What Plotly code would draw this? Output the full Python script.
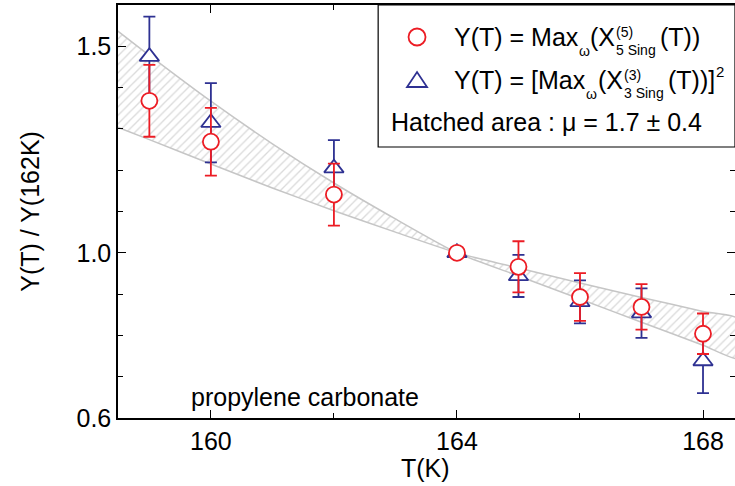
import plotly.graph_objects as go

# Données
T = [159, 160, 162, 164, 165, 166, 167, 168]
y5 = [1.368, 1.269, 1.141, 1.0, 0.966, 0.893, 0.869, 0.804]
err5 = [0.087, 0.082, 0.075, 0.005, 0.062, 0.058, 0.055, 0.049]
y3 = [1.475, 1.315, 1.205, 1.0, 0.944, 0.881, 0.854, 0.738]
err3 = [0.097, 0.096, 0.068, 0.01, 0.051, 0.052, 0.06, 0.078]

# bords de la zone hachurée (mu = 1.7 +/- 0.4)
T_band = [158.4, 159, 160, 161, 162, 163, 164, 165, 166, 167, 168, 168.6]
band_steep = [1.547, 1.478, 1.367, 1.264, 1.169, 1.082, 1.0, 0.944, 0.888, 0.832, 0.776, 0.743]
band_flat = [1.309, 1.274, 1.215, 1.157, 1.102, 1.05, 1.0, 0.963, 0.927, 0.892, 0.858, 0.839]

x_ticks = [160, 164, 168]
y_ticks = [0.6, 1.0, 1.5]
y_ticktext = ['0.6', '1.0', '1.5']

RED = '#ec1c24'
BLUE = '#2e3192'
FONT = 'Liberation Sans, Arial, Helvetica, sans-serif'

# géométrie du cadre (px) : le bord droit du cadre tombe juste hors de la fenêtre
L, R, TOP, BOT = 118, 737, 5, 418
W, H = 737, 486


def px_x(x):
    return (x - L) / (R - L)


def px_y(y):
    return (BOT - y) / (BOT - TOP)


fig = go.Figure()

fig.add_trace(go.Scatter(
    x=T_band + T_band[::-1], y=band_steep + band_flat[::-1],
    mode='lines', fill='toself', fillcolor='white',
    fillpattern=dict(shape='/', fgcolor='#b5b5b5', bgcolor='white', size=6, solidity=0.22),
    line=dict(color='#c6c6c6', width=1.5, shape='spline', smoothing=0.6),
    hoverinfo='skip', showlegend=False))

fig.add_trace(go.Scatter(
    x=T, y=y3, mode='markers', showlegend=False,
    marker=dict(symbol='triangle-up', size=17, color='white', line=dict(color=BLUE, width=1.8)),
    error_y=dict(type='data', array=err3, color=BLUE, thickness=1.8, width=6)))

fig.add_trace(go.Scatter(
    x=T, y=y5, mode='markers', showlegend=False,
    marker=dict(symbol='circle', size=16, color='white', line=dict(color=RED, width=1.8)),
    error_y=dict(type='data', array=err5, color=RED, thickness=1.8, width=6)))

axis_common = dict(showline=True, linecolor='black', linewidth=1.5, mirror='ticks',
                   ticks='inside', ticklen=8, tickwidth=1.2, tickcolor='black',
                   showgrid=False, zeroline=False,
                   tickfont=dict(family=FONT, size=25, color='black'))

fig.update_xaxes(range=[158.49, 168.52], tickvals=x_ticks,
                 minor=dict(ticks='inside', ticklen=5, tickwidth=1.2, tickcolor='black', tick0=160, dtick=2),
                 **axis_common)
fig.update_yaxes(range=[0.6, 1.6], tickvals=y_ticks, ticktext=y_ticktext,
                 minor=dict(ticks='inside', ticklen=5, tickwidth=1.2, tickcolor='black', tick0=0.6, dtick=0.1),
                 **axis_common)

# cadre de la légende
fig.add_shape(type='rect', xref='paper', yref='paper', x0=px_x(379), x1=1.0, y0=px_y(147), y1=1.0,
              line=dict(color='black', width=1.2), fillcolor='white', layer='above')
fig.add_shape(type='circle', xref='paper', yref='paper', xsizemode='pixel', ysizemode='pixel',
              xanchor=px_x(418), yanchor=px_y(37), x0=-8.5, x1=8.5, y0=-8.5, y1=8.5,
              line=dict(color=RED, width=1.8), layer='above')
fig.add_shape(type='path', xref='paper', yref='paper', xsizemode='pixel', ysizemode='pixel',
              xanchor=px_x(418), yanchor=px_y(80), path='M -10,-7 L 10,-7 L 0,8 Z',
              line=dict(color=BLUE, width=1.8), layer='above')


def label(text, x, y, size=25, anchor='left', angle=0):
    fig.add_annotation(text=text, x=px_x(x), y=px_y(y), xref='paper', yref='paper',
                       xanchor=anchor, yanchor='middle', showarrow=False, align='left',
                       textangle=angle, font=dict(family=FONT, size=size, color='black'))


# ligne 1
label('Y(T) = Max', 453, 37)
label('ω', 578, 51, 14)
label('(X', 590, 37)
label('(5)<br>5 Sing', 616, 41, 14)
label('(T))', 660, 37)
# ligne 2
label('Y(T) = [Max', 453, 80)
label('ω', 586, 94, 14)
label('(X', 598, 80)
label('(3)<br>3 Sing', 624, 84, 14)
label('(T))]', 668, 80)
label('2', 716, 71, 15)
# ligne 3
label('Hatched area : μ = 1.7 ± 0.4', 390, 122)

label('propylene carbonate', 189, 397)

# titres des axes
label('T(K)', (L + 735) / 2, 468, anchor='center')
label('Y(T) / Y(162K)', 29, (TOP + BOT) / 2, anchor='center', angle=-90)

fig.update_layout(width=W, height=H, margin=dict(l=L, r=W - R, t=TOP, b=H - BOT),
                  paper_bgcolor='white', plot_bgcolor='white',
                  font=dict(family=FONT, size=25, color='black'))

# pas de marge de page autour de la figure, pas de barre d'outils
fig.write_html("out.html", config={'displayModeBar': False},
               post_script="document.body.style.margin='0';document.body.style.overflow='hidden';")
